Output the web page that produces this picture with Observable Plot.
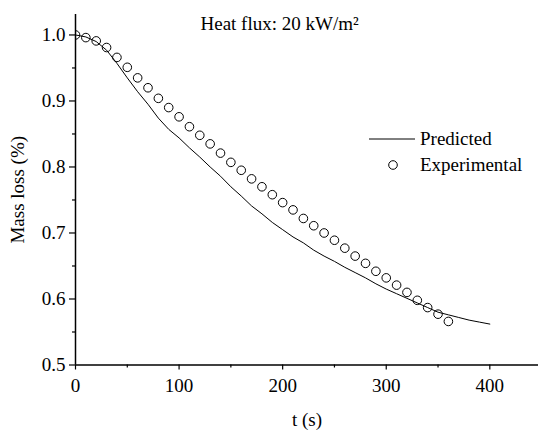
<!DOCTYPE html>
<html><head><meta charset="utf-8">
<script src="https://cdn.jsdelivr.net/npm/d3@7"></script>
<script src="https://cdn.jsdelivr.net/npm/@observablehq/plot@0.6"></script>
<style>
body{margin:0;background:#fff;}
#wrap{position:relative;width:538px;height:430px;font-family:"Liberation Serif","Times New Roman",serif;}
#legend{position:absolute;left:365px;top:125px;}
</style></head><body><div id="wrap"></div>
<script>
const title = "Heat flux: 20 kW/m²";
const xLabel = "t (s)";
const yLabel = "Mass loss (%)";
const seriesNames = ["Predicted", "Experimental"];

const predT = [0,10,20,30,40,50,60,70,80,90,100,110,120,130,140,150,160,170,180,190,200,210,220,230,240,250,260,270,280,290,300,310,320,330,340,350,360,370,380,390,400];
const predV = [1.000,0.997,0.990,0.977,0.957,0.935,0.914,0.895,0.874,0.857,0.844,0.829,0.815,0.800,0.786,0.770,0.756,0.741,0.729,0.716,0.705,0.694,0.685,0.674,0.665,0.657,0.648,0.640,0.632,0.623,0.615,0.608,0.601,0.594,0.587,0.580,0.576,0.572,0.568,0.565,0.562];

const expT = [0,10,20,30,40,50,60,70,80,90,100,110,120,130,140,150,160,170,180,190,200,210,220,230,240,250,260,270,280,290,300,310,320,330,340,350,360];
const expV = [1.000,0.996,0.991,0.981,0.966,0.951,0.935,0.920,0.904,0.890,0.876,0.861,0.848,0.835,0.821,0.807,0.795,0.782,0.770,0.758,0.746,0.735,0.722,0.711,0.700,0.689,0.677,0.665,0.654,0.642,0.632,0.621,0.610,0.598,0.587,0.577,0.566];

const xMajor = [0,100,200,300,400];
const xMinor = [50,150,250,350];
const yMajor = [0.5,0.6,0.7,0.8,0.9,1.0];
const yMinor = [0.55,0.65,0.75,0.85,0.95];

const pred = predT.map((t,i)=>({t, v:predV[i]}));
const exp = expT.map((t,i)=>({t, v:expV[i]}));

const FF = '"Liberation Serif", "Times New Roman", serif';

const chart = Plot.plot({
  width: 538, height: 430,
  marginLeft: 75, marginRight: 0, marginTop: 14, marginBottom: 65.5,
  style: {fontFamily: FF, fontSize: "19px", color: "black", background: "white"},
  x: {domain: [0, 447], label: null},
  y: {domain: [0.5, 1.031], label: null},
  marks: [
    Plot.axisX(xMinor, {tickSize: 3, tickFormat: () => "", strokeWidth: 1.2, label: null}),
    Plot.axisX(xMajor, {tickSize: 5, tickPadding: 8, tickFormat: "d", strokeWidth: 1.2,
      fontFamily: FF, fontSize: 19, fontVariant: "normal",
      label: xLabel, labelAnchor: "center", labelOffset: 61, labelArrow: "none"}),
    Plot.axisY(yMinor, {tickSize: 3, tickFormat: () => "", strokeWidth: 1.2, label: null}),
    Plot.axisY(yMajor, {tickSize: 6, tickPadding: 4, tickFormat: d3.format(".1f"), strokeWidth: 1.2,
      fontFamily: FF, fontSize: 19, fontVariant: "normal",
      label: yLabel, labelAnchor: "center", labelOffset: 65, labelArrow: "none"}),
    Plot.line(pred, {x: "t", y: "v", stroke: "black", strokeWidth: 1}),
    Plot.dot(exp, {x: "t", y: "v", r: 4.3, stroke: "black", strokeWidth: 1, fill: "none", clip: true}),
    Plot.ruleX([0], {stroke: "black", strokeWidth: 1.5}),
    Plot.ruleY([0.5], {stroke: "black", strokeWidth: 1.5}),
    Plot.text([title], {text: d => d, frameAnchor: "top-left", dx: 125, dy: 9.5, textAnchor: "start", lineAnchor: "middle", fontSize: 19, fontFamily: FF})
  ]
});

const wrap = document.getElementById("wrap");
wrap.appendChild(chart);

// legend
const leg = d3.select(wrap).append("svg").attr("id","legend").attr("width",173).attr("height",55)
  .style("font-family", FF).style("font-size","19px");
leg.append("line").attr("x1",4).attr("x2",50).attr("y1",14).attr("y2",14).attr("stroke","black").attr("stroke-width",1);
leg.append("circle").attr("cx",28).attr("cy",40).attr("r",4.3).attr("fill","none").attr("stroke","black");
leg.append("text").attr("x",55).attr("y",14).attr("dy","0.32em").text(seriesNames[0]);
leg.append("text").attr("x",55).attr("y",40).attr("dy","0.32em").text(seriesNames[1]);
</script></body></html>
